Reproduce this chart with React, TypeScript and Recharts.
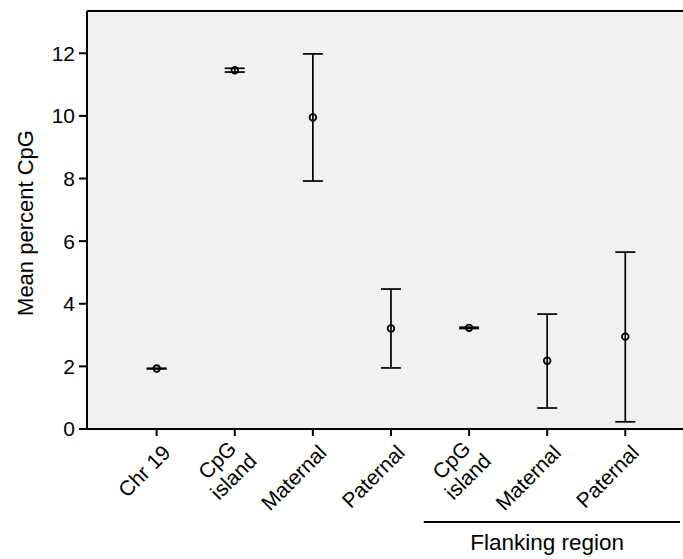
import { CartesianGrid, ComposedChart, ErrorBar, Label, ReferenceLine, Scatter, XAxis, YAxis } from "recharts";

// category labels (\n = line break in the rotated tick)
const categories = ["Chr 19", "CpG\nisland", "Maternal", "Paternal", "CpG\nisland", "Maternal", "Paternal"];
const means = [1.93, 11.46, 9.95, 3.21, 3.23, 2.18, 2.95];
const lowers = [1.92, 11.4, 7.92, 1.95, 3.21, 0.67, 0.23];
const uppers = [1.94, 11.52, 11.98, 4.47, 3.25, 3.67, 5.65];
const yTicks = [0, 2, 4, 6, 8, 10, 12];
const groupLabel = "Flanking region";
const groupCategories = [5, 6, 7];

const X_MIN = 0.108;
const X_MAX = 7.739;
const Y_MAX = 13.35;

const font = "'Liberation Sans', Arial, sans-serif";
const TICK_FONT = 21;

const data = categories.map((_, i) => ({
  x: i + 1,
  mean: means[i],
  err: [means[i] - lowers[i], uppers[i] - means[i]],
}));

let ctx: CanvasRenderingContext2D | null = null;
const measure = (s: string, size: number) => {
  if (!ctx) ctx = document.createElement("canvas").getContext("2d");
  if (!ctx) return s.length * size * 0.55;
  ctx.font = `${size}px ${font}`;
  return ctx.measureText(s).width;
};

const XTick = ({ x, y, payload }: any) => {
  const lines = categories[payload.value - 1].split("\n");
  const lh = 23;
  const w = Math.max(...lines.map((l) => measure(l, TICK_FONT)));
  return (
    <g transform={`translate(${x + 15},${y + 18})`}>
      <text transform="rotate(-45)" textAnchor="middle" fontSize={TICK_FONT} fontFamily={font} fill="#000">
        {lines.map((l, i) => (
          <tspan key={i} x={-w / 2} y={(i - (lines.length - 1) / 2) * lh}>
            {l}
          </tspan>
        ))}
      </text>
    </g>
  );
};

const GroupBracket = ({ viewBox }: any) => {
  const toPx = (v: number) => viewBox.x + ((v - X_MIN) / (X_MAX - X_MIN)) * viewBox.width;
  const first = groupCategories[0];
  const last = groupCategories[groupCategories.length - 1];
  const x1 = toPx(first - 0.58);
  const x2 = toPx(last + 0.7);
  const mid = toPx((first + last) / 2);
  return (
    <g>
      <line x1={x1} x2={x2} y1={522} y2={522} stroke="#000" strokeWidth={2} />
      <text x={mid} y={550} textAnchor="middle" fontSize={22.5} fontFamily={font} fill="#000">
        {groupLabel}
      </text>
    </g>
  );
};

const YTitle = ({ viewBox }: any) => {
  const cy = viewBox.y + viewBox.height / 2 + 3;
  return (
    <text x={33} y={cy} transform={`rotate(-90, 33, ${cy})`} textAnchor="middle" fontSize={22} fontFamily={font} fill="#000">
      Mean percent CpG
    </text>
  );
};

export default function App() {
  return (
    <div style={{ position: "absolute", left: 0, top: 0 }}>
      <ComposedChart width={683} height={559} data={data} margin={{ top: 11, right: 0, left: 0, bottom: 0 }}>
        <CartesianGrid horizontal={false} vertical={false} fill="#f0f1f0" />
        <XAxis
          dataKey="x"
          type="number"
          domain={[X_MIN, X_MAX]}
          allowDataOverflow
          ticks={[1, 2, 3, 4, 5, 6, 7]}
          interval={0}
          height={130}
          tick={<XTick />}
          tickSize={7}
          tickMargin={0}
          axisLine={{ stroke: "#000", strokeWidth: 2 }}
          tickLine={{ stroke: "#000", strokeWidth: 2 }}
        >
          <Label content={<GroupBracket />} />
        </XAxis>
        <YAxis
          type="number"
          domain={[0, Y_MAX]}
          ticks={yTicks}
          width={87}
          tickSize={8}
          tickMargin={4}
          tick={{ fill: "#000", fontSize: TICK_FONT, fontFamily: font }}
          axisLine={{ stroke: "#000", strokeWidth: 2 }}
          tickLine={{ stroke: "#000", strokeWidth: 2 }}
        >
          <Label content={<YTitle />} />
        </YAxis>
        <ReferenceLine y={Y_MAX} stroke="#000" strokeWidth={2} />
        <Scatter
          dataKey="mean"
          isAnimationActive={false}
          shape={(p: any) => <circle cx={p.cx} cy={p.cy} r={3.3} fill="none" stroke="#000" strokeWidth={1.8} />}
        >
          <ErrorBar dataKey="err" direction="y" width={10} stroke="#000" strokeWidth={1.7} />
        </Scatter>
      </ComposedChart>
    </div>
  );
}
